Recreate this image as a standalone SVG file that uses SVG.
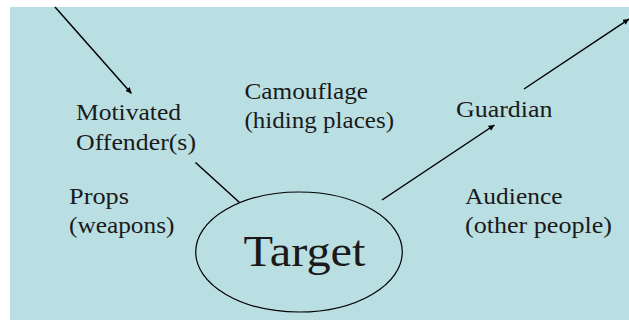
<svg xmlns="http://www.w3.org/2000/svg" width="629" height="320" viewBox="0 0 629 320">
<style>
.t{font-size:24px;fill:#1a1a1a}
.c{stroke:#000;stroke-width:1.5;fill:none}
</style>
<defs>
<marker id="ah" viewBox="0 0 10 10" refX="10" refY="5" markerWidth="6" markerHeight="6" markerUnits="userSpaceOnUse" orient="auto">
<path d="M0,0L10,5L0,10z" fill="#000"/>
</marker>
</defs>
<rect x="0" y="0" width="629" height="320" fill="#fff"/>
<rect x="10" y="7" width="619" height="313" fill="#badfe3"/>
<g id="connectors">
<line class="c" x1="55" y1="7" x2="131.5" y2="93.5" marker-end="url(#ah)"/>
<line class="c" x1="195.5" y1="162.5" x2="239.5" y2="202.5"/>
<line class="c" x1="382" y1="200" x2="494.5" y2="125" marker-end="url(#ah)"/>
<line class="c" x1="524" y1="89" x2="629" y2="19" marker-end="url(#ah)"/>
</g>
<g font-family="Liberation Serif, Times New Roman, serif">
<g id="offender">
<text class="t" x="76" y="120" textLength="105" lengthAdjust="spacingAndGlyphs">Motivated</text>
<text class="t" x="76" y="150" textLength="120" lengthAdjust="spacingAndGlyphs">Offender(s)</text>
</g>
<g id="camouflage">
<text class="t" x="244.5" y="99" textLength="123.5" lengthAdjust="spacingAndGlyphs">Camouflage</text>
<text class="t" x="244.5" y="128" textLength="149.5" lengthAdjust="spacingAndGlyphs">(hiding places)</text>
</g>
<g id="guardian">
<text class="t" x="456" y="117" textLength="96.5" lengthAdjust="spacingAndGlyphs">Guardian</text>
</g>
<g id="props">
<text class="t" x="69" y="204" textLength="60" lengthAdjust="spacingAndGlyphs">Props</text>
<text class="t" x="69" y="233" textLength="105.5" lengthAdjust="spacingAndGlyphs">(weapons)</text>
</g>
<g id="audience">
<text class="t" x="465" y="204" textLength="97.5" lengthAdjust="spacingAndGlyphs">Audience</text>
<text class="t" x="465" y="233" textLength="147" lengthAdjust="spacingAndGlyphs">(other people)</text>
</g>
<g id="target">
<ellipse cx="299" cy="252" rx="103.3" ry="60" fill="none" stroke="#000" stroke-width="1.2"/>
<text class="t" x="243.5" y="266" textLength="122" lengthAdjust="spacingAndGlyphs" style="font-size:45px">Target</text>
</g>
</g>
</svg>
